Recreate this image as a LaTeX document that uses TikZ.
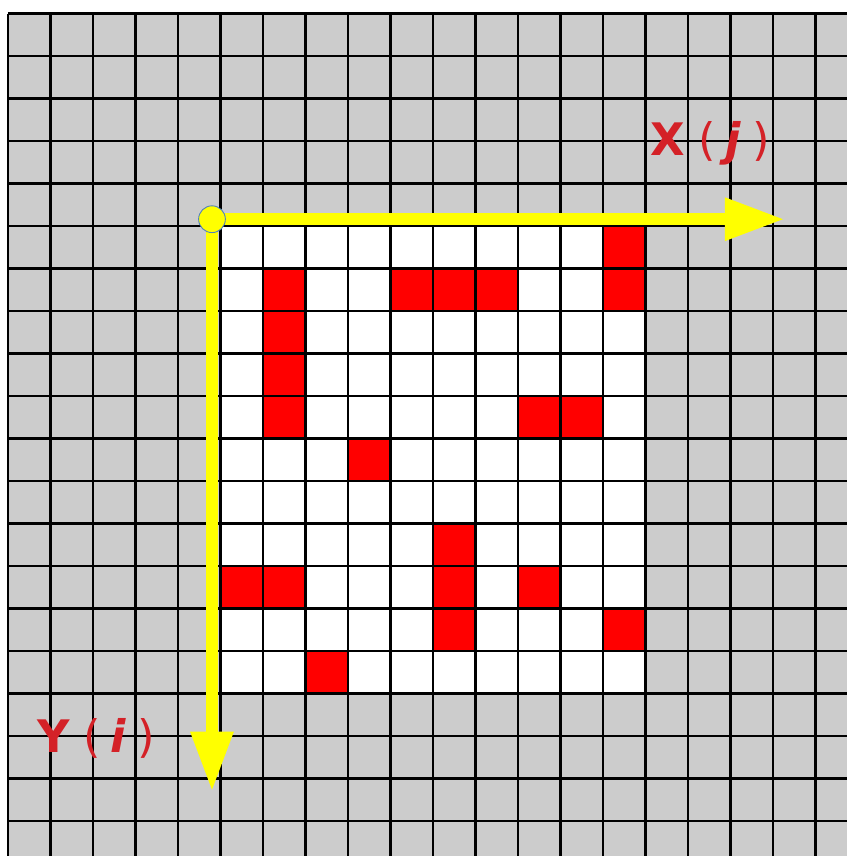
\documentclass[tikz,border=0pt]{standalone}
\usepackage{fontspec}
\setmainfont{DejaVu Sans}[ItalicFont={DejaVu Sans Oblique},BoldItalicFont={DejaVu Sans Bold Oblique}]
\usepackage{tikz}
\usepackage{xcolor}
\usetikzlibrary{arrows.meta}
\definecolor{cellgray}{HTML}{CCCCCC}
\definecolor{cellred}{HTML}{FF0000}
\definecolor{axisyellow}{HTML}{FFFF00}
\definecolor{labelred}{HTML}{D42127}
\definecolor{rimblue}{HTML}{4F81BD}
\newcommand{\axislabel}[2]{\textbf{#1}\hspace{0.3em}(\hspace{0.2em}\textbf{\textit{#2}}\hspace{0.25em})}

\begin{document}
\begin{tikzpicture}[x=1cm, y=-1cm,
  gridline/.style={line width=1.8pt, draw=black},
  axisarrow/.style={draw=axisyellow, line width=8pt, -{Triangle[length=1.41cm,width=0.94cm]}},
  originmark/.style={circle, fill=axisyellow, draw=rimblue, line width=0.6pt, minimum size=0.63cm, inner sep=0pt},
  every node/.style={font=\fontsize{30}{36}\selectfont, text=labelred, inner sep=0pt}]
  \useasboundingbox (-0.188,-0.318) rectangle (19.741,19.824);
  \clip (-0.188,-0.318) rectangle (19.741,19.824);
  % cells
  \fill[cellgray] (0,0) rectangle (20,20);
  \fill[white] (5,5) rectangle (15,16);
  \foreach \c/\r in {14/5, 6/6, 9/6, 10/6, 11/6, 14/6, 6/7, 6/8, 6/9, 12/9, 13/9,
                     8/10, 10/12, 5/13, 6/13, 10/13, 12/13, 10/14, 14/14, 7/15}
    \fill[cellred] (\c,\r) rectangle ++(1,1);
  \draw[gridline] (0,0) grid (20,20);
  % axes
  \coordinate (origin) at (4.80,4.84);
  \coordinate (xtip) at (18.28,4.84);
  \coordinate (ytip) at (4.80,18.31);
  \draw[axisarrow] (origin) -- (xtip);
  \draw[axisarrow] (origin) -- (ytip);
  \node[originmark] (origindot) at (origin) {};
  \node[anchor=base] (xlabel) at (16.52,3.33) {\axislabel{X}{j}};
  \node[anchor=base] (ylabel) at (2.07,17.40) {\axislabel{Y}{i}};
\end{tikzpicture}
\end{document}
